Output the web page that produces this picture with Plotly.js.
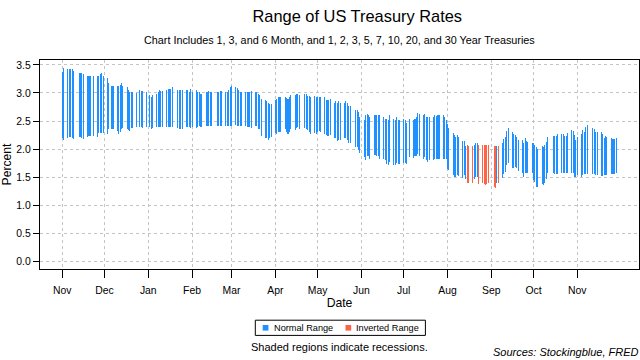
<!DOCTYPE html>
<html>
<head>
<meta charset="utf-8">
<script src="https://cdn.plot.ly/plotly-3.0.1.min.js"></script>
<style>html,body{margin:0;padding:0;background:#fff}#chart{width:640px;height:360px}</style>
</head>
<body>
<div id="chart"></div>
<script>
// ---- data ----
const dates = [
'2018-11-01','2018-11-02','2018-11-05','2018-11-06','2018-11-07','2018-11-08','2018-11-09','2018-11-13','2018-11-14','2018-11-15','2018-11-16','2018-11-19','2018-11-20','2018-11-21','2018-11-23','2018-11-26','2018-11-27','2018-11-28','2018-11-29','2018-11-30',
'2018-12-03','2018-12-04','2018-12-06','2018-12-07','2018-12-10','2018-12-11','2018-12-12','2018-12-13','2018-12-14','2018-12-17','2018-12-18','2018-12-19','2018-12-20','2018-12-21','2018-12-24','2018-12-26','2018-12-27','2018-12-28','2018-12-31',
'2019-01-02','2019-01-03','2019-01-04','2019-01-07','2019-01-08','2019-01-09','2019-01-10','2019-01-11','2019-01-14','2019-01-15','2019-01-16','2019-01-17','2019-01-18','2019-01-22','2019-01-23','2019-01-24','2019-01-25','2019-01-28','2019-01-29','2019-01-30','2019-01-31',
'2019-02-01','2019-02-04','2019-02-05','2019-02-06','2019-02-07','2019-02-08','2019-02-11','2019-02-12','2019-02-13','2019-02-14','2019-02-15','2019-02-19','2019-02-20','2019-02-21','2019-02-22','2019-02-25','2019-02-26','2019-02-27','2019-02-28',
'2019-03-01','2019-03-04','2019-03-05','2019-03-06','2019-03-07','2019-03-08','2019-03-11','2019-03-12','2019-03-13','2019-03-14','2019-03-15','2019-03-18','2019-03-19','2019-03-20','2019-03-21','2019-03-22','2019-03-25','2019-03-26','2019-03-27','2019-03-28','2019-03-29',
'2019-04-01','2019-04-02','2019-04-03','2019-04-04','2019-04-05','2019-04-08','2019-04-09','2019-04-10','2019-04-11','2019-04-12','2019-04-15','2019-04-16','2019-04-17','2019-04-18','2019-04-22','2019-04-23','2019-04-24','2019-04-25','2019-04-26','2019-04-29','2019-04-30',
'2019-05-01','2019-05-02','2019-05-03','2019-05-06','2019-05-07','2019-05-08','2019-05-09','2019-05-10','2019-05-13','2019-05-14','2019-05-15','2019-05-16','2019-05-17','2019-05-20','2019-05-21','2019-05-22','2019-05-23','2019-05-24','2019-05-28','2019-05-29','2019-05-30','2019-05-31',
'2019-06-03','2019-06-04','2019-06-05','2019-06-06','2019-06-07','2019-06-10','2019-06-11','2019-06-12','2019-06-13','2019-06-14','2019-06-17','2019-06-18','2019-06-19','2019-06-20','2019-06-21','2019-06-24','2019-06-25','2019-06-26','2019-06-27','2019-06-28',
'2019-07-01','2019-07-02','2019-07-03','2019-07-05','2019-07-08','2019-07-09','2019-07-10','2019-07-11','2019-07-12','2019-07-15','2019-07-16','2019-07-17','2019-07-18','2019-07-19','2019-07-22','2019-07-23','2019-07-24','2019-07-25','2019-07-26','2019-07-29','2019-07-30','2019-07-31',
'2019-08-01','2019-08-02','2019-08-05','2019-08-06','2019-08-07','2019-08-08','2019-08-09','2019-08-12','2019-08-13','2019-08-14','2019-08-15','2019-08-16','2019-08-19','2019-08-20','2019-08-21','2019-08-22','2019-08-23','2019-08-26','2019-08-27','2019-08-28','2019-08-29','2019-08-30',
'2019-09-03','2019-09-04','2019-09-05','2019-09-06','2019-09-09','2019-09-10','2019-09-11','2019-09-12','2019-09-13','2019-09-16','2019-09-17','2019-09-18','2019-09-19','2019-09-20','2019-09-23','2019-09-24','2019-09-25','2019-09-26','2019-09-27','2019-09-30',
'2019-10-01','2019-10-02','2019-10-03','2019-10-04','2019-10-07','2019-10-08','2019-10-09','2019-10-10','2019-10-11','2019-10-15','2019-10-16','2019-10-17','2019-10-18','2019-10-21','2019-10-22','2019-10-23','2019-10-24','2019-10-25','2019-10-28','2019-10-29','2019-10-30','2019-10-31',
'2019-11-01','2019-11-04','2019-11-05','2019-11-06','2019-11-07','2019-11-08','2019-11-12','2019-11-13','2019-11-14','2019-11-15','2019-11-18','2019-11-19','2019-11-20','2019-11-21','2019-11-22','2019-11-25','2019-11-26','2019-11-27','2019-11-29'
];
const highRate = [
3.38,3.45,3.43,3.43,3.43,3.43,3.39,3.36,3.35,3.36,3.33,3.31,3.31,3.31,3.31,3.31,3.31,3.33,3.35,3.31,
3.27,3.17,3.13,3.13,3.13,3.13,3.15,3.17,3.13,3.11,3.06,3.01,3.02,3.02,3.00,3.06,3.04,3.04,3.01,
2.96,2.92,2.96,2.99,3.01,3.05,3.04,3.04,3.05,3.07,3.07,3.07,3.10,3.06,3.06,3.05,3.06,3.06,3.05,3.02,3.07,
3.02,3.06,3.02,3.02,2.98,2.98,3.01,3.02,3.04,3.01,3.01,3.01,3.01,3.04,3.03,3.02,3.02,3.06,3.10,
3.13,3.10,3.08,3.06,3.02,3.02,3.02,3.02,3.02,3.02,3.04,3.02,3.02,2.99,2.96,2.90,2.87,2.86,2.83,2.81,2.81,
2.88,2.89,2.93,2.92,2.92,2.93,2.91,2.89,2.92,2.96,2.96,2.99,2.99,2.96,2.99,2.98,2.94,2.94,2.92,2.95,2.93,
2.93,2.93,2.92,2.92,2.88,2.87,2.88,2.89,2.83,2.86,2.83,2.85,2.83,2.83,2.85,2.82,2.76,2.76,2.70,2.69,2.66,2.58,
2.52,2.60,2.63,2.61,2.58,2.61,2.61,2.61,2.61,2.60,2.57,2.54,2.54,2.52,2.60,2.54,2.52,2.57,2.52,2.52,
2.54,2.51,2.46,2.54,2.52,2.54,2.58,2.65,2.63,2.61,2.63,2.58,2.57,2.58,2.57,2.61,2.59,2.60,2.60,2.60,2.57,2.52,
2.45,2.37,2.29,2.25,2.22,2.25,2.22,2.14,2.14,2.05,2.07,2.06,2.06,2.07,2.11,2.10,2.07,2.08,2.07,2.07,2.08,2.08,
2.06,2.06,2.06,2.06,2.11,2.18,2.21,2.33,2.37,2.31,2.27,2.25,2.22,2.17,2.17,2.10,2.19,2.15,2.13,2.11,
2.11,2.07,2.04,2.00,2.06,2.04,2.07,2.13,2.21,2.24,2.24,2.24,2.26,2.27,2.26,2.24,2.24,2.29,2.34,2.32,2.25,2.17,
2.21,2.27,2.34,2.30,2.39,2.43,2.38,2.36,2.31,2.31,2.30,2.26,2.20,2.24,2.21,2.20,2.18,2.18,2.20
];
const lowRate = [
2.19,2.17,2.20,2.21,2.21,2.19,2.18,2.21,2.21,2.19,2.18,2.22,2.23,2.23,2.24,2.22,2.29,2.29,2.29,2.29,
2.27,2.35,2.35,2.36,2.32,2.27,2.31,2.35,2.37,2.35,2.34,2.33,2.37,2.37,2.40,2.40,2.40,2.37,2.40,
2.40,2.36,2.38,2.40,2.39,2.39,2.40,2.40,2.40,2.40,2.40,2.39,2.39,2.37,2.35,2.36,2.36,2.40,2.39,2.39,2.38,
2.40,2.38,2.40,2.42,2.40,2.40,2.42,2.41,2.41,2.42,2.42,2.41,2.41,2.42,2.42,2.42,2.42,2.42,2.42,
2.42,2.43,2.42,2.42,2.41,2.42,2.41,2.39,2.40,2.40,2.38,2.41,2.41,2.35,2.36,2.24,2.20,2.19,2.17,2.19,2.21,
2.29,2.26,2.31,2.30,2.30,2.35,2.30,2.26,2.30,2.36,2.34,2.37,2.39,2.36,2.37,2.35,2.34,2.30,2.27,2.29,2.27,
2.31,2.32,2.30,2.27,2.25,2.24,2.24,2.25,2.19,2.20,2.15,2.17,2.16,2.19,2.19,2.17,2.10,2.10,2.04,2.03,1.99,1.93,
1.86,1.81,1.88,1.87,1.82,1.89,1.89,1.87,1.87,1.83,1.82,1.81,1.73,1.72,1.77,1.71,1.71,1.75,1.74,1.74,
1.76,1.75,1.73,1.85,1.84,1.87,1.88,1.91,1.87,1.83,1.86,1.80,1.77,1.80,1.80,1.82,1.83,1.83,1.83,1.83,1.83,1.83,
1.65,1.63,1.54,1.51,1.51,1.54,1.52,1.48,1.54,1.47,1.40,1.40,1.40,1.46,1.50,1.50,1.37,1.39,1.37,1.36,1.38,1.40,
1.33,1.31,1.39,1.40,1.48,1.56,1.59,1.72,1.76,1.67,1.66,1.68,1.66,1.61,1.57,1.51,1.58,1.58,1.57,1.58,
1.45,1.42,1.33,1.33,1.37,1.36,1.39,1.46,1.57,1.57,1.56,1.56,1.55,1.58,1.57,1.57,1.57,1.58,1.58,1.58,1.51,1.50,
1.54,1.50,1.54,1.55,1.55,1.55,1.55,1.55,1.54,1.54,1.52,1.52,1.54,1.54,1.54,1.56,1.56,1.56,1.58
];
const invertedDates = ['2019-08-15','2019-08-16','2019-08-19','2019-08-23','2019-08-26','2019-08-27','2019-08-28','2019-08-29','2019-08-30','2019-09-03','2019-09-04','2019-09-06'];
const monthTicks = ['2018-11-01','2018-12-01','2019-01-01','2019-02-01','2019-03-01','2019-04-01','2019-05-01','2019-06-01','2019-07-01','2019-08-01','2019-09-01','2019-10-01','2019-11-01'];
const monthLabels = ['Nov','Dec','Jan','Feb','Mar','Apr','May','Jun','Jul','Aug','Sep','Oct','Nov'];
const yTicks = [0, 0.5, 1, 1.5, 2, 2.5, 3, 3.5];
const seriesNames = ['Normal Range', 'Inverted Range'];

// ---- build traces ----
const BLUE = '#1E90FF', RED = '#FF6347';
function subset(inv) {
  const x = [], base = [], span = [];
  dates.forEach((d, i) => {
    if (invertedDates.includes(d) === inv) {
      x.push(d); base.push(lowRate[i]); span.push(highRate[i] - lowRate[i]);
    }
  });
  return {x, base, span};
}
const n = subset(false), r = subset(true);
const DAY = 86400000;
const traces = [
  {type: 'bar', name: seriesNames[0], x: n.x, base: n.base, y: n.span, width: 0.72 * DAY,
   marker: {color: BLUE, line: {width: 0}}, showlegend: false, hoverinfo: 'skip'},
  {type: 'bar', name: seriesNames[1], x: r.x, base: r.base, y: r.span, width: 0.72 * DAY,
   marker: {color: RED, line: {width: 0}}, showlegend: false, hoverinfo: 'skip'}
];

const FONT = 'Liberation Sans, Arial, Helvetica, sans-serif';
// plot area: x 40..639, y 60..269 (209 px)
function py(Y) { return (269 - Y) / 209; }
function px(X) { return (X - 40) / 599; }

const layout = {
  width: 640, height: 360,
  margin: {l: 40, r: 1, t: 60, b: 91, pad: 0},
  paper_bgcolor: '#ffffff', plot_bgcolor: '#ffffff',
  font: {family: FONT, color: '#000', size: 10.4},
  barmode: 'overlay', bargap: 0,
  showlegend: false,
  title: {text: 'Range of US Treasury Rates', font: {family: FONT, size: 16.4, color: '#000'},
          x: 339 / 640, xanchor: 'center', xref: 'paper', y: 1 - 16 / 360, yanchor: 'middle', yref: 'container'},
  xaxis: {
    type: 'date', range: ['2018-10-16 06:43', '2019-12-14 17:17'],
    tickmode: 'array', tickvals: monthTicks, ticktext: monthLabels,
    ticks: 'outside', ticklen: 8, tickwidth: 1, tickcolor: '#000', ticklabelstandoff: 3,
    tickfont: {family: FONT, size: 10.4, color: '#000'},
    showgrid: true, gridcolor: '#c4c4c4', griddash: '3px,3px', gridwidth: 1,
    showline: true, mirror: true, linecolor: '#000', linewidth: 1.2, zeroline: false,
    title: {text: 'Date', font: {family: FONT, size: 12.2, color: '#000'}, standoff: 3},
    fixedrange: true
  },
  yaxis: {
    range: [-0.138, 3.588],
    tickmode: 'array', tickvals: yTicks, tickformat: '.1f',
    ticks: 'outside', ticklen: 6, tickwidth: 1, tickcolor: '#000',
    tickfont: {family: FONT, size: 10.4, color: '#000'},
    showgrid: true, gridcolor: '#c4c4c4', griddash: '3px,3px', gridwidth: 1,
    showline: true, mirror: true, linecolor: '#000', linewidth: 1.2, zeroline: false,
    title: {text: 'Percent', font: {family: FONT, size: 12.2, color: '#000'}, standoff: 3},
    fixedrange: true
  },
  annotations: [
    {text: 'Chart Includes 1, 3, and 6 Month, and 1, 2, 3, 5, 7, 10, 20, and 30 Year Treasuries',
     xref: 'paper', yref: 'paper', x: px(339), y: py(39.5), xanchor: 'center', yanchor: 'middle',
     showarrow: false, font: {family: FONT, size: 10.8, color: '#000'}},
    {text: seriesNames[0], xref: 'paper', yref: 'paper', x: px(272.5), y: py(327.8), xanchor: 'left', yanchor: 'middle',
     showarrow: false, font: {family: FONT, size: 9.2, color: '#000'}, borderpad: 0},
    {text: seriesNames[1], xref: 'paper', yref: 'paper', x: px(354.8), y: py(327.8), xanchor: 'left', yanchor: 'middle',
     showarrow: false, font: {family: FONT, size: 9.2, color: '#000'}, borderpad: 0},
    {text: 'Shaded regions indicate recessions.', xref: 'paper', yref: 'paper', x: px(339.4), y: py(347), xanchor: 'center', yanchor: 'middle',
     showarrow: false, font: {family: FONT, size: 11, color: '#000'}},
    {text: '<i>Sources: Stockingblue, FRED</i>', xref: 'paper', yref: 'paper', x: px(641), y: py(352), xanchor: 'right', yanchor: 'middle',
     showarrow: false, font: {family: FONT, size: 11, color: '#000'}}
  ],
  shapes: [
    {type: 'rect', xref: 'paper', yref: 'paper', x0: px(255.3), x1: px(425.4), y0: py(320.2), y1: py(335.4),
     line: {color: '#000', width: 1}, fillcolor: 'rgba(0,0,0,0)'},
    {type: 'rect', xref: 'paper', yref: 'paper', x0: px(262.7), x1: px(268.4), y0: py(325), y1: py(330.6),
     line: {width: 0}, fillcolor: BLUE},
    {type: 'rect', xref: 'paper', yref: 'paper', x0: px(345.5), x1: px(351.2), y0: py(325), y1: py(330.6),
     line: {width: 0}, fillcolor: RED}
  ]
};

Plotly.newPlot('chart', traces, layout, {staticPlot: true, displayModeBar: false});
</script>
</body>
</html>
